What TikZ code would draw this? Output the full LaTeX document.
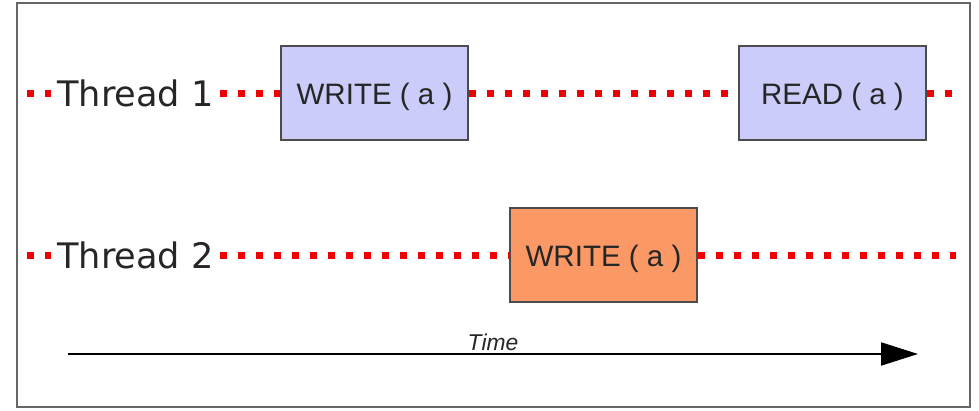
\documentclass[tikz,border=0pt]{standalone}
\usepackage{fontspec}
\setmainfont{Liberation Sans}
\newfontfamily\dejavu{DejaVu Sans}
\usetikzlibrary{arrows.meta}
\definecolor{lav}{HTML}{CCCCFA}
\definecolor{org}{HTML}{FA9966}
\definecolor{redd}{HTML}{F00000}
\newcommand{\optext}[1]{\raisebox{-0.24cm}[0pt][0pt]{#1}}
\tikzset{
  opbox/.style={draw=black!70, line width=1.4pt, minimum width=3.74cm, minimum height=1.88cm, inner sep=0pt, font=\fontsize{16.8}{20}\selectfont, text=black!85},
  thr/.style={font=\dejavu\fontsize{20}{23}\selectfont, text=black!85, inner sep=0.12cm},
  redline/.style={draw=redd, line width=0.14cm, dash pattern=on 0.14cm off 0.22cm}
}
\begin{document}
\begin{tikzpicture}[x=0.02cm,y=-0.02cm]
\useasboundingbox (0,0) rectangle (979,411);
\draw[black!60, line width=1.2pt] (17,3) rectangle (970,407);
% nodes
\node[thr] (t1) at (135.5,93) {Thread 1};
\node[thr] (t2) at (135.5,255) {Thread 2};
\node[opbox, fill=lav] (w1) at (374.5,93) {\optext{WRITE ( a )}};
\node[opbox, fill=lav] (r1) at (832.5,93) {\optext{READ ( a )}};
\node[opbox, fill=org] (w2) at (603.5,255) {\optext{WRITE ( a )}};
\coordinate (L1) at (27,94);
\coordinate (R1) at (956,94);
\coordinate (L2) at (27,256);
\coordinate (R2) at (956,256);
% thread lines
\draw[redline] (L1) -- (t1.west |- L1);
\draw[redline] (t1.east |- L1) -- (w1.west |- L1);
\draw[redline] (w1.east |- L1) -- (r1.west |- L1);
\draw[redline] (r1.east |- R1) -- (R1);
\draw[redline] (L2) -- (t2.west |- L2);
\draw[redline] (t2.east |- L2) -- (w2.west |- L2);
\draw[redline] (w2.east |- R2) -- (R2);
% time arrow
\coordinate (A0) at (68,354);
\coordinate (A1) at (918,354);
\draw[line width=1.2pt, -{Triangle[length=0.74cm, width=0.46cm]}] (A0) -- (A1);
\node[font=\itshape\fontsize{13}{15}\selectfont, text=black!85] (time) at (493,342) {Time};
\end{tikzpicture}
\end{document}
